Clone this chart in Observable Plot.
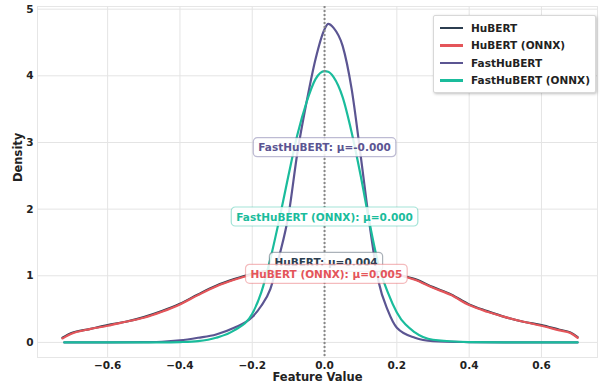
<!DOCTYPE html>
<html><head><meta charset="utf-8">
<script src="https://cdn.jsdelivr.net/npm/d3@7"></script>
<script src="https://cdn.jsdelivr.net/npm/@observablehq/plot@0.6"></script>
<style>
body{margin:0;background:#fff;}
#wrap{position:relative;width:604px;height:391px;font-family:"DejaVu Sans",sans-serif;}
#wrap svg{font-family:"DejaVu Sans",sans-serif;font-weight:bold;}
#legend{position:absolute;left:433px;top:15px;width:161px;padding:3px 0 3px 0;background:#fff;border:1px solid #d8d8d8;border-radius:2px;box-shadow:1px 1px 3px rgba(0,0,0,0.25);font-size:10.5px;font-weight:bold;color:#222;}
#legend .row{display:flex;align-items:center;height:17.5px;}
#legend .sw{width:23px;height:2.5px;margin:0 8px 0 6px;}
</style></head><body><div id="wrap"></div><script>
const seriesNames = ["HuBERT", "HuBERT (ONNX)", "FastHuBERT", "FastHuBERT (ONNX)"];
const seriesColors = ["#2c3e50", "#e4555a", "#5b5592", "#1abc9c"];

const hubertX = [-0.725,-0.7,-0.65,-0.6,-0.55,-0.5,-0.45,-0.4,-0.35,-0.3,-0.25,-0.2,-0.15,-0.1,-0.05,0,0.05,0.1,0.15,0.2,0.25,0.3,0.35,0.4,0.45,0.5,0.55,0.6,0.65,0.68,0.7];
const hubertY = [0.07,0.14,0.2,0.26,0.31,0.38,0.47,0.58,0.72,0.85,0.95,1.03,1.08,1.12,1.14,1.15,1.14,1.12,1.08,1.02,0.95,0.83,0.72,0.57,0.47,0.38,0.31,0.26,0.19,0.15,0.08];
const hubertOnnxY = [0.06,0.13,0.2,0.25,0.31,0.37,0.46,0.57,0.71,0.84,0.94,1.02,1.08,1.12,1.14,1.15,1.14,1.12,1.08,1.02,0.94,0.82,0.71,0.56,0.46,0.38,0.31,0.25,0.18,0.14,0.07];

const fastX = [-0.72,-0.6,-0.5,-0.45,-0.4,-0.35,-0.3,-0.25,-0.2,-0.175,-0.15,-0.125,-0.1,-0.075,-0.05,-0.025,0,0.01,0.025,0.05,0.075,0.1,0.125,0.15,0.175,0.2,0.25,0.3,0.4,0.5,0.6,0.7];
const fastY = [0,0,0.005,0.01,0.03,0.07,0.12,0.22,0.38,0.55,0.8,1.3,1.9,2.85,3.6,4.25,4.7,4.78,4.72,4.45,3.8,2.8,1.75,0.9,0.48,0.22,0.07,0.02,0.005,0,0,0];
const fastOnnxY = [0,0,0,0,0.005,0.02,0.07,0.18,0.43,0.75,1.25,1.85,2.5,3.12,3.6,3.95,4.07,4.06,3.98,3.68,3.15,2.5,1.78,1.15,0.75,0.45,0.15,0.04,0.005,0,0,0];

const labelSeries = ["FastHuBERT", "FastHuBERT (ONNX)", "HuBERT", "HuBERT (ONNX)"];
const labelTexts = ["FastHuBERT: μ=-0.000", "FastHuBERT (ONNX): μ=0.000", "HuBERT: μ=0.004", "HuBERT (ONNX): μ=0.005"];
const labelMu = [0.000, 0.000, 0.004, 0.005];
const labelY = [2.92, 1.88, 1.2, 1.02];

const xTicks = [-0.6,-0.4,-0.2,0,0.2,0.4,0.6];
const yTicks = [0,1,2,3,4,5];

const curves = [];
const addSeries = (name, xs, ys) => xs.forEach((x, i) => curves.push({series: name, x, y: ys[i]}));
addSeries("HuBERT", hubertX, hubertY);
addSeries("HuBERT (ONNX)", hubertX, hubertOnnxY);
addSeries("FastHuBERT", fastX, fastY);
addSeries("FastHuBERT (ONNX)", fastX, fastOnnxY);

const labels = labelSeries.map((s, i) => ({series: s, text: labelTexts[i], mu: labelMu[i], y: labelY[i]}));

const chart = Plot.plot({
  width: 604, height: 391,
  marginLeft: 37, marginRight: 7, marginTop: 6, marginBottom: 34,
  x: {domain: [-0.794, 0.755]},
  y: {domain: [-0.226, 5.04]},
  color: {domain: seriesNames, range: seriesColors},
  marks: [
    Plot.frame({stroke: "#e6e6e6"}),
    Plot.gridX(xTicks, {stroke: "#e4e4e4", strokeOpacity: 1}),
    Plot.gridY(yTicks, {stroke: "#e4e4e4", strokeOpacity: 1}),
    Plot.axisX(xTicks, {tickSize: 0, tickPadding: 4, tickFormat: d3.format(".1f"), label: null, fontSize: 10.5, fill: "#222"}),
    Plot.axisY(yTicks, {tickSize: 0, tickPadding: 4, tickFormat: d3.format("d"), label: null, fontSize: 10.5, fill: "#222"}),
    Plot.line(curves, {x: "x", y: "y", z: "series", stroke: "series", strokeWidth: 2.2, curve: "monotone-x"}),
    Plot.ruleX([0], {stroke: "#888", strokeWidth: 2, strokeDasharray: "2,2"}),
    Plot.text(labels, {x: "mu", y: "y", text: "text", fill: "series", fontSize: 10.5, fontWeight: "bold"}),
    Plot.text(["Density"], {frameAnchor: "left", rotate: -90, dx: -19, text: d => d, fontSize: 11.5, fontWeight: "bold", fill: "#222"}),
    Plot.text(["Feature Value"], {frameAnchor: "bottom", dy: 23, text: d => d, fontSize: 11.5, fontWeight: "bold", fill: "#222"})
  ]
});

const wrap = document.getElementById("wrap");
wrap.appendChild(chart);

const ns = "http://www.w3.org/2000/svg";
Array.from(chart.querySelectorAll("text"))
  .filter(t => labelTexts.includes(t.textContent))
  .forEach(t => {
    const b = t.getBBox();
    const col = t.getAttribute("fill") || getComputedStyle(t).fill;
    const r = document.createElementNS(ns, "rect");
    const px = 5, py = 4;
    r.setAttribute("x", b.x - px);
    r.setAttribute("y", b.y - py + 0.5);
    r.setAttribute("width", b.width + 2 * px);
    r.setAttribute("height", b.height + 2 * py - 1);
    r.setAttribute("rx", 4);
    r.setAttribute("fill", "#fff");
    r.setAttribute("fill-opacity", 0.85);
    r.setAttribute("stroke", col);
    r.setAttribute("stroke-opacity", 0.4);
    r.setAttribute("stroke-width", 1.2);
    if (t.getAttribute("transform")) r.setAttribute("transform", t.getAttribute("transform"));
    t.parentNode.insertBefore(r, t);
  });

const legend = document.createElement("div");
legend.id = "legend";
seriesNames.forEach((n, i) => {
  const row = document.createElement("div");
  row.className = "row";
  const sw = document.createElement("span");
  sw.className = "sw";
  sw.style.background = seriesColors[i];
  const lab = document.createElement("span");
  lab.textContent = n;
  row.appendChild(sw); row.appendChild(lab);
  legend.appendChild(row);
});
wrap.appendChild(legend);
</script></body></html>
